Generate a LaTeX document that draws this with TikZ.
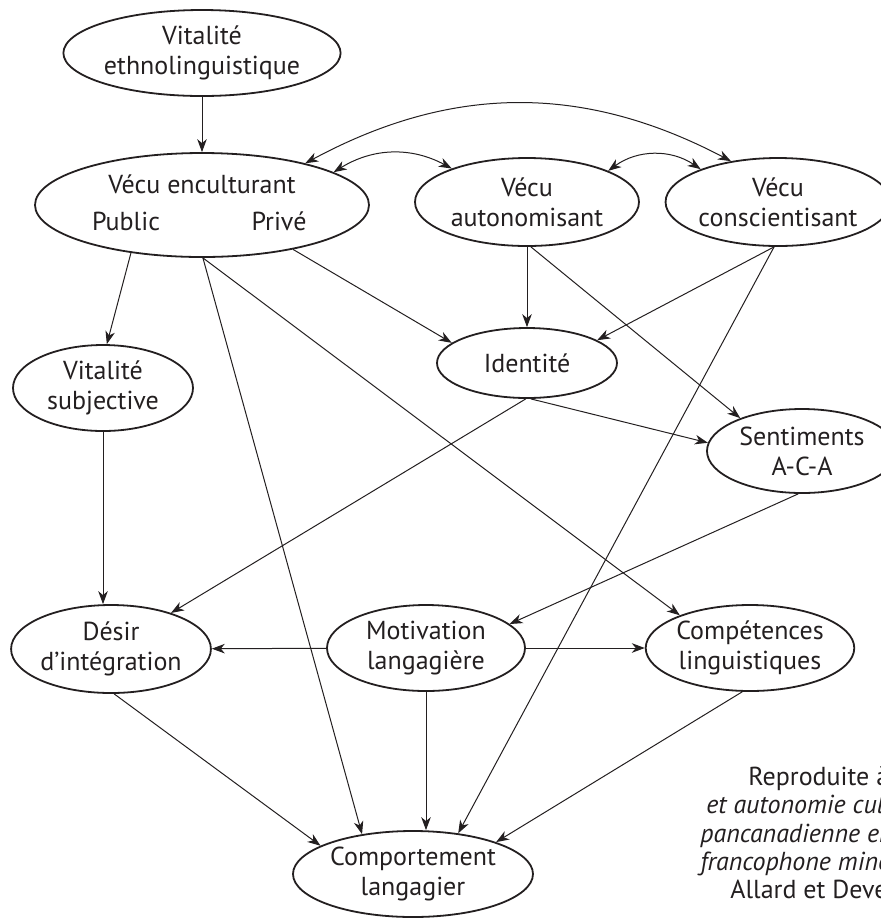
\documentclass[tikz,border=0pt]{standalone}
\usepackage{fontspec}
\setmainfont{PT Sans}
\usepackage{xcolor}
\usetikzlibrary{shapes,arrows.meta,positioning}
\definecolor{encre}{HTML}{231F20}

\begin{document}
\begin{tikzpicture}[x=0.5pt,y=-0.5pt,color=encre,
    >={Stealth[length=6.5pt,width=4.8pt,inset=2pt]},
    bulle/.style={ellipse,draw,line width=0.9pt,inner sep=0pt,align=center,font=\fontsize{13}{15}\selectfont},
    txt/.style={font=\fontsize{13}{15}\selectfont,inner sep=0pt},
    fl/.style={->,line width=0.5pt}]
    \useasboundingbox (0,0) rectangle (881,918);
    \clip (0,0) rectangle (881,918);
    % les variables
    \node[bulle,minimum width=119pt,minimum height=43pt] (eth) at (202,53) {Vitalit\'e\\ethnolinguistique};
    \node[bulle,minimum width=167pt,minimum height=52pt] (enc) at (202,205) {};
    \node[txt,anchor=base] (encT) at (202,193) {V\'ecu enculturant};
    \node[txt,anchor=base] (pub) at (126,230) {Public};
    \node[txt,anchor=base] (pri) at (279,230) {Priv\'e};
    \node[bulle,minimum width=112pt,minimum height=44pt] (aut) at (527,202) {V\'ecu\\autonomisant};
    \node[bulle,minimum width=112pt,minimum height=44pt] (con) at (778,202) {V\'ecu\\conscientisant};
    \node[bulle,minimum width=90pt,minimum height=35pt] (ide) at (527,363) {Identit\'e};
    \node[bulle,minimum width=90pt,minimum height=43pt] (sub) at (103,388) {Vitalit\'e\\subjective};
    \node[bulle,minimum width=95pt,minimum height=42pt] (sen) at (802,451) {Sentiments\\A-C-A};
    \node[bulle,minimum width=99pt,minimum height=44pt] (des) at (111,649) {D\'esir\\d’int\'egration};
    \node[bulle,minimum width=99pt,minimum height=43pt] (mot) at (426,648) {Motivation\\langagi\`ere};
    \node[bulle,minimum width=100pt,minimum height=43pt] (cpt) at (750,648) {Comp\'etences\\linguistiques};
    \node[bulle,minimum width=120pt,minimum height=43pt] (com) at (413,874) {Comportement\\langagier};
    % source
    \node[txt,anchor=base west] (src1) at (748,785) {Reproduite \`a};
    \node[txt,anchor=base west,font=\fontsize{13}{15}\selectfont\itshape] (src2) at (706,813) {et autonomie cul};
    \node[txt,anchor=base west,font=\fontsize{13}{15}\selectfont\itshape] (src3) at (700,842) {pancanadienne en};
    \node[txt,anchor=base west,font=\fontsize{13}{15}\selectfont\itshape] (src4) at (700,870) {francophone mino};
    \node[txt,anchor=base west] (src5) at (730,898) {Allard et Devea};
    % les liens
    \draw[fl] (eth.south) -- (enc.north);
    \draw[<->,line width=0.5pt] (enc.22) to[bend left=28] (con.139);
    \draw[<->,line width=0.5pt] (enc.14) to[bend left=30] (aut.156);
    \draw[<->,line width=0.5pt] (aut.21) to[bend left=35] (con.157);
    \draw[fl] (enc.214) -- (sub.85);
    \draw[fl] (enc.271) -- (com.142);
    \draw[fl] (enc.271) -- (cpt.155);
    \draw[fl] (enc.334) -- (ide.165);
    \draw[fl] (aut.south) -- (ide.north);
    \draw[fl] (aut.275) -- (sen.152);
    \draw[fl] (con.265) -- (ide.18);
    \draw[fl] (con.265) -- (com.42);
    \draw[fl] (ide.276) -- (sen.175);
    \draw[fl] (ide.268) -- (des.31);
    \draw[fl] (sub.south) -- (sub.south |- des.north);
    \draw[fl] (sen.265) -- (mot.16);
    \draw[fl] (mot) -- (des);
    \draw[fl] (mot) -- (cpt);
    \draw[fl] (mot.south) -- (mot.south |- com.north);
    \draw[fl] (des.274) -- (com.163);
    \draw[fl] (cpt.260) -- (com.21);
\end{tikzpicture}
\end{document}
